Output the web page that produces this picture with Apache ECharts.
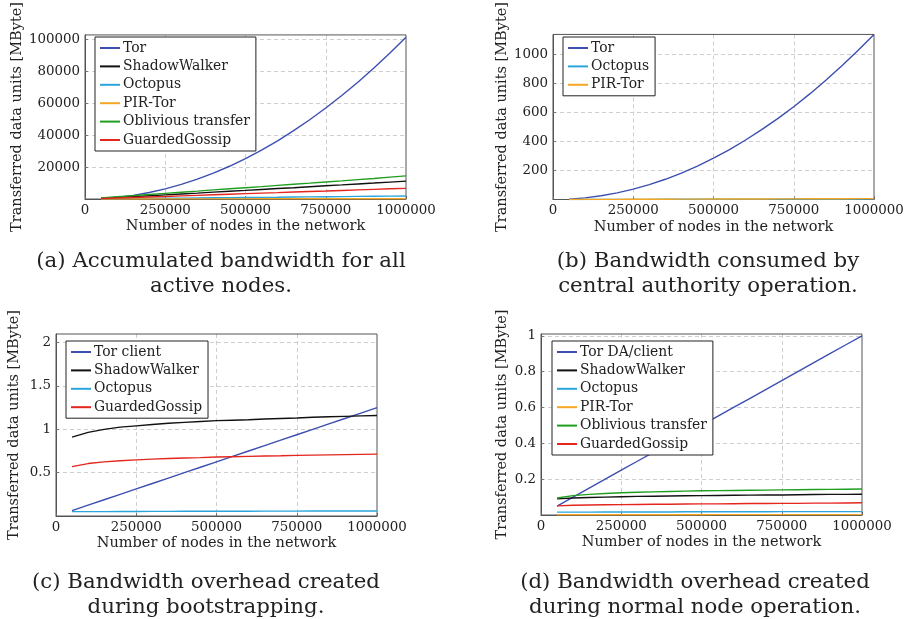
<!DOCTYPE html>
<html>
<head>
<meta charset="utf-8">
<script src="https://cdn.jsdelivr.net/npm/echarts@6/dist/echarts.min.js"></script>
<style>
html,body{margin:0;padding:0;background:#fff;}
#chart{width:913px;height:619px;}
</style>
</head>
<body>
<div id="chart"></div>
<script>
// ---- data ----
const nodes = [50000,100000,150000,200000,250000,300000,350000,400000,450000,500000,
               550000,600000,650000,700000,750000,800000,850000,900000,950000,1000000];
const xTicks = ["0","250000","500000","750000","1000000"];

// (a) Accumulated bandwidth for all active nodes [MByte]
const aTor     = [254,1015,2284,4060,6344,9135,12434,16240,20554,25375,30704,36540,42884,49735,57094,64960,73334,82215,91604,101500];
const aShadow  = [460,970,1500,2050,2600,3150,3700,4300,4850,5400,6000,6550,7100,7700,8300,8850,9450,10000,10600,11200];
const aOctopus = [100,190,290,380,480,570,670,760,860,950,1050,1140,1240,1330,1430,1520,1620,1710,1810,1900];
const aPIR     = [10,20,30,40,50,60,70,80,90,100,110,120,130,140,150,160,170,180,190,200];
const aOblivious=[700,1450,2150,2850,3550,4250,4950,5700,6400,7100,7800,8550,9250,9950,10700,11400,12150,12900,13700,14500];
const aGossip  = [280,600,930,1270,1600,1950,2300,2650,3000,3350,3700,4000,4350,4700,5000,5350,5700,6050,6400,6700];

// (b) Bandwidth consumed by central authority operation [MByte]
const bTor     = [2.8,11.4,25.5,45.4,71,102,139,182,230,284,343,409,480,556,638,726,820,919,1024,1135];
const bOctopus = [0.2,0.4,0.6,0.8,1.0,1.2,1.4,1.6,1.8,2.0,2.2,2.4,2.6,2.8,3.0,3.2,3.4,3.6,3.8,4.0];
const bPIR     = [0.3,0.6,0.9,1.2,1.5,1.8,2.1,2.4,2.7,3.0,3.3,3.6,3.9,4.2,4.5,4.8,5.1,5.4,5.7,6.0];

// (c) Bandwidth overhead created during bootstrapping [MByte]
const cTorClient = [0.0625,0.125,0.1875,0.25,0.3125,0.375,0.4375,0.5,0.5625,0.625,0.6875,0.75,0.8125,0.875,0.9375,1.0,1.0625,1.125,1.1875,1.25];
const cShadow  = [0.91,0.965,1.0,1.025,1.04,1.055,1.07,1.08,1.09,1.1,1.105,1.11,1.12,1.125,1.13,1.14,1.145,1.15,1.155,1.16];
const cOctopus = [0.05,0.051,0.051,0.052,0.052,0.053,0.053,0.054,0.054,0.055,0.055,0.055,0.056,0.056,0.056,0.057,0.057,0.057,0.058,0.058];
const cGossip  = [0.57,0.605,0.625,0.638,0.648,0.656,0.663,0.669,0.674,0.68,0.684,0.688,0.692,0.695,0.699,0.702,0.705,0.708,0.711,0.714];

// (d) Bandwidth overhead created during normal node operation [MByte]
const dTor     = [0.05,0.1,0.15,0.2,0.25,0.3,0.35,0.4,0.45,0.5,0.55,0.6,0.65,0.7,0.75,0.8,0.85,0.9,0.95,1.0];
const dShadow  = [0.09,0.095,0.098,0.1,0.102,0.104,0.105,0.106,0.107,0.108,0.109,0.11,0.111,0.112,0.112,0.113,0.114,0.115,0.115,0.116];
const dOctopus = [0.016,0.016,0.016,0.017,0.017,0.017,0.017,0.017,0.018,0.018,0.018,0.018,0.018,0.018,0.019,0.019,0.019,0.019,0.019,0.019];
const dPIR     = [0.001,0.001,0.001,0.001,0.001,0.001,0.001,0.001,0.001,0.001,0.002,0.002,0.002,0.002,0.002,0.002,0.002,0.002,0.002,0.002];
const dOblivious=[0.095,0.108,0.115,0.12,0.124,0.127,0.129,0.131,0.133,0.135,0.136,0.137,0.138,0.139,0.14,0.141,0.142,0.143,0.144,0.145];
const dGossip  = [0.051,0.054,0.056,0.057,0.058,0.059,0.06,0.06,0.061,0.062,0.062,0.063,0.064,0.064,0.065,0.065,0.066,0.066,0.067,0.068];

const captions = [
  ["(a) Accumulated bandwidth for all","active nodes."],
  ["(b) Bandwidth consumed by","central authority operation."],
  ["(c) Bandwidth overhead created","during bootstrapping."],
  ["(d) Bandwidth overhead created","during normal node operation."]
];
const xTitle = "Number of nodes in the network";
const yTitle = "Transferred data units [MByte]";

// ---- styling ----
const FONT = "DejaVu Serif";
const C = {
  tor:'#3c4fb0', shadow:'#111111', octopus:'#2aa6dc', pir:'#f5a623', oblivious:'#1f9e1f', gossip:'#e3261e'
};
const panels = [
  {left:85, top:32, width:321, height:167, max:103000, interval:20000, nameGap:60,
   legend:{left:95, top:37},
   series:[['Tor',aTor,C.tor],['ShadowWalker',aShadow,C.shadow],['Octopus',aOctopus,C.octopus],
           ['PIR-Tor',aPIR,C.pir],['Oblivious transfer',aOblivious,C.oblivious],['GuardedGossip',aGossip,C.gossip]]},
  {left:553, top:32, width:321, height:167.5, max:1135, interval:200, nameGap:43,
   legend:{left:563, top:37},
   series:[['Tor',bTor,C.tor],['Octopus',bOctopus,C.octopus],['PIR-Tor',bPIR,C.pir]]},
  {left:56, top:334, width:321, height:182, max:2.1, interval:0.5, nameGap:34,
   legend:{left:66, top:341},
   series:[['Tor client',cTorClient,C.tor],['ShadowWalker',cShadow,C.shadow],['Octopus',cOctopus,C.octopus],
           ['GuardedGossip',cGossip,C.gossip]]},
  {left:541, top:334, width:321, height:181, max:1.01, interval:0.2, nameGap:31,
   legend:{left:552, top:341},
   series:[['Tor DA/client',dTor,C.tor],['ShadowWalker',dShadow,C.shadow],['Octopus',dOctopus,C.octopus],
           ['PIR-Tor',dPIR,C.pir],['Oblivious transfer',dOblivious,C.oblivious],['GuardedGossip',dGossip,C.gossip]]}
];

const fmtX = v => { const i = Math.round(v/250000); return (Math.abs(v - i*250000) < 1 && xTicks[i] !== undefined) ? xTicks[i] : String(v); };
const fmtY = v => String(+(+v).toFixed(6));

const grid=[], xAxis=[], yAxis=[], series=[], legend=[], graphic=[];
const captionPos = [[221,261],[708,261],[206,582],[695,582]];

panels.forEach((p,i)=>{
  grid.push({left:p.left, top:p.top, width:p.width, height:p.height, show:true,
             borderColor:'#555', borderWidth:1, backgroundColor:'transparent', z:3});
  xAxis.push({type:'value', gridIndex:i, min:0, max:1000000, interval:250000,
    name:xTitle, nameLocation:'middle', nameGap:20,
    nameTextStyle:{fontFamily:FONT, fontSize:14.5, color:'#222'},
    axisLine:{show:true, lineStyle:{color:'#555', width:1}},
    axisTick:{show:true, inside:true, length:3, lineStyle:{color:'#777'}},
    axisLabel:{fontFamily:FONT, fontSize:13.4, color:'#222', margin:5, formatter:fmtX},
    splitLine:{show:true, showMinLine:false, showMaxLine:false, lineStyle:{color:'#cfcfcf', type:[4,3], width:1}}
  });
  yAxis.push({type:'value', gridIndex:i, min:0, max:p.max, interval:p.interval,
    name:yTitle, nameLocation:'middle', nameGap:p.nameGap, nameRotate:90,
    nameTextStyle:{fontFamily:FONT, fontSize:14.5, color:'#222'},
    axisLine:{show:true, lineStyle:{color:'#555', width:1}},
    axisTick:{show:true, inside:true, length:3, lineStyle:{color:'#777'}},
    axisLabel:{fontFamily:FONT, fontSize:13.4, color:'#222', margin:5, showMinLabel:false, showMaxLabel:false, formatter:fmtY},
    splitLine:{show:true, showMinLine:false, showMaxLine:false, lineStyle:{color:'#cfcfcf', type:[4,3], width:1}}
  });
  const names=[];
  p.series.forEach(([name,vals,color])=>{
    names.push(name);
    series.push({type:'line', name, xAxisIndex:i, yAxisIndex:i, showSymbol:false, symbol:'none',
      smooth:false, color, lineStyle:{color, width:1.4}, animation:false,
      data: nodes.map((n,k)=>[n, vals[k]])});
  });
  legend.push({orient:'vertical', left:p.legend.left, top:p.legend.top, data:names,
    icon:'rect', itemWidth:20, itemHeight:2, itemGap:2.4,
    padding:[3,6,3,5], borderColor:'#222', borderWidth:1, backgroundColor:'#fff',
    textStyle:{fontFamily:FONT, fontSize:13.9, color:'#222', lineHeight:16, padding:[0,0,0,-2]},
    selectedMode:false});
  graphic.push({type:'text', x:captionPos[i][0], y:captionPos[i][1],
    style:{text:captions[i][0], font:'21.3px "DejaVu Serif"', fill:'#222', textAlign:'center', textVerticalAlign:'middle'}});
  graphic.push({type:'text', x:captionPos[i][0], y:captionPos[i][1]+25,
    style:{text:captions[i][1], font:'21.3px "DejaVu Serif"', fill:'#222', textAlign:'center', textVerticalAlign:'middle'}});
});

const chart = echarts.init(document.getElementById('chart'), null, {renderer:'canvas'});
chart.setOption({animation:false, backgroundColor:'#fff', grid, xAxis, yAxis, series, legend, graphic});
</script>
</body>
</html>
